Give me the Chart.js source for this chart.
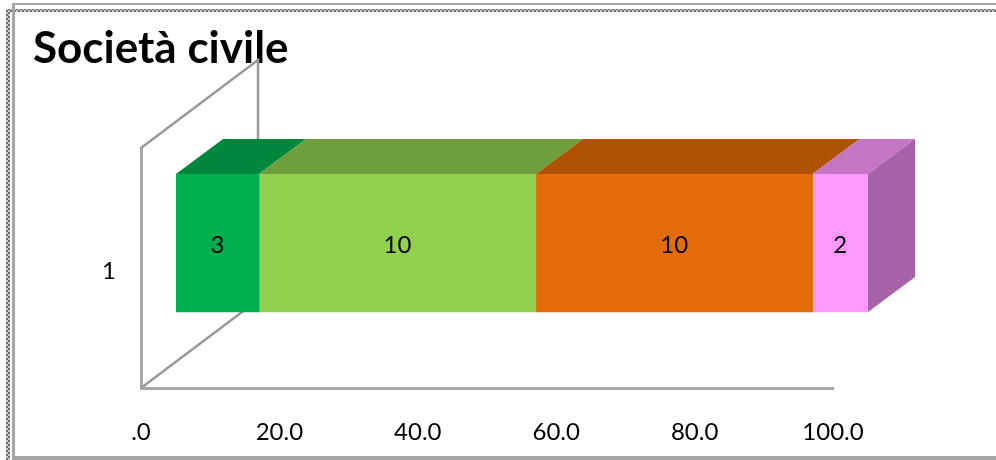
<!DOCTYPE html>
<html>
<head>
<meta charset="utf-8">
<script src="https://cdn.jsdelivr.net/npm/chart.js@4.4.1/dist/chart.umd.min.js"></script>
<style>
  html, body { margin: 0; padding: 0; background: #fff; }
  canvas { display: block; }
</style>
</head>
<body>
<canvas id="grafico" width="996" height="460"></canvas>
<script>
// dati: una categoria, quattro serie (conteggi)
const categorie = ['1'];
const serie1 = [3];
const serie2 = [10];
const serie3 = [10];
const serie4 = [2];
const tickAsseX = ['.0', '20.0', '40.0', '60.0', '80.0', '100.0'];

const conteggi = [serie1, serie2, serie3, serie4];
// barre in pila al 100%: quota di ogni serie sul totale della categoria
const totali = categorie.map((c, i) => conteggi.reduce((s, a) => s + a[i], 0));
const quote = conteggi.map(a => a.map((v, i) => v / totali[i] * 100));

const coloriFronte = ['#00b050', '#92d050', '#e36c0a', '#ff99ff'];
const coloriSopra = ['#00873e', '#6f9e3e', '#b05206', '#c476c4'];
const coloreLato = '#a562a6';
const grigio = '#a6a6a6';

// cornice esterna (linea piena + linea tratteggiata)
const cornice = {
    id: 'cornice',
    beforeDraw(chart) {
        const ctx = chart.ctx;
        const W = chart.width, H = chart.height;
        const p = document.createElement('canvas');
        p.width = 4; p.height = 4;
        const pc = p.getContext('2d');
        pc.fillStyle = '#c8c8c8'; pc.fillRect(0, 0, 4, 4);
        pc.fillStyle = '#6e6e6e';
        pc.fillRect(0, 0, 2, 2); pc.fillRect(2, 2, 2, 2);
        const trama = ctx.createPattern(p, 'repeat');
        ctx.save();
        ctx.fillStyle = trama;
        ctx.fillRect(6, 9, W - 6, 3);
        ctx.fillRect(6, 9, 4, H - 9);
        ctx.fillStyle = grigio;
        ctx.fillRect(12, 3, W - 12, 2);
        ctx.fillRect(12, 3, 3, H - 3);
        ctx.fillRect(12, H - 4, W - 12, 4);
        ctx.restore();
    }
};

// effetto 3D: pareti, facce superiori/laterali ed etichette
const rilievo = {
    id: 'rilievo',
    beforeDatasetsDraw(chart, args, o) {
        const {ctx, chartArea: a} = chart;
        ctx.save();
        ctx.strokeStyle = '#9a9a9a';
        ctx.lineWidth = 2.5;
        ctx.beginPath();
        ctx.moveTo(a.left, a.top);
        ctx.lineTo(a.left + o.wallDx, a.top + o.wallDy);
        ctx.lineTo(a.left + o.wallDx, a.bottom + o.wallDy);
        ctx.moveTo(a.left, a.bottom);
        ctx.lineTo(a.left + o.wallDx, a.bottom + o.wallDy);
        ctx.stroke();
        ctx.restore();
        ctx.save();
        ctx.translate(o.shiftX, o.shiftY);
    },
    afterDatasetsDraw(chart, args, o) {
        const ctx = chart.ctx;
        const metas = chart.getSortedVisibleDatasetMetas();
        metas.forEach((meta, di) => {
            const ds = chart.data.datasets[meta.index];
            meta.data.forEach(el => {
                const {x, y, base, height} = el.getProps(['x', 'y', 'base', 'height'], true);
                const top = y - height / 2, bottom = y + height / 2;
                ctx.fillStyle = ds.topColor;
                ctx.beginPath();
                ctx.moveTo(base, top);
                ctx.lineTo(x, top);
                ctx.lineTo(x + o.dx, top + o.dy);
                ctx.lineTo(base + o.dx, top + o.dy);
                ctx.closePath();
                ctx.fill();
                if (di === metas.length - 1) {
                    ctx.fillStyle = coloreLato;
                    ctx.beginPath();
                    ctx.moveTo(x, top);
                    ctx.lineTo(x + o.dx, top + o.dy);
                    ctx.lineTo(x + o.dx, bottom + o.dy);
                    ctx.lineTo(x, bottom);
                    ctx.closePath();
                    ctx.fill();
                }
            });
        });
        ctx.fillStyle = '#000';
        ctx.font = '24px Lato';
        ctx.textAlign = 'center';
        ctx.textBaseline = 'middle';
        metas.forEach(meta => {
            const ds = chart.data.datasets[meta.index];
            meta.data.forEach((el, i) => {
                const {x, y, base} = el.getProps(['x', 'y', 'base'], true);
                ctx.fillText(String(ds.conteggi[i]), (x + base) / 2, y + 2);
            });
        });
        ctx.restore();
    }
};

new Chart(document.getElementById('grafico'), {
    type: 'bar',
    data: {
        labels: categorie,
        datasets: conteggi.map((s, i) => ({
            label: 'Serie ' + (i + 1),
            data: quote[i],
            conteggi: s,
            backgroundColor: coloriFronte[i],
            topColor: coloriSopra[i],
            borderWidth: 0,
            barThickness: 138
        }))
    },
    options: {
        responsive: false,
        animation: false,
        devicePixelRatio: 1,
        indexAxis: 'y',
        layout: { padding: { left: 33, right: 163, top: 0, bottom: 0 } },
        plugins: {
            legend: { display: false },
            tooltip: { enabled: false },
            title: {
                display: true,
                text: 'Società civile',
                align: 'start',
                color: '#000',
                font: { family: 'Lato', size: 44, weight: 'bold' },
                padding: { top: 22, bottom: 73.2 }
            },
            rilievo: { dx: 47, dy: -35, shiftX: 35, shiftY: -25, wallDx: 117, wallDy: -88 }
        },
        scales: {
            x: {
                stacked: true,
                min: 0,
                max: 100,
                grid: { display: false, drawTicks: false },
                border: { display: true, color: grigio, width: 3 },
                ticks: {
                    stepSize: 20,
                    padding: 30,
                    color: '#000',
                    font: { family: 'Lato', size: 24 },
                    callback: (v, i) => tickAsseX[i]
                },
                afterFit: s => { s.height = 72; }
            },
            y: {
                stacked: true,
                grid: { display: false, drawTicks: false },
                border: { display: true, color: grigio, width: 3 },
                ticks: {
                    padding: 25,
                    labelOffset: 3,
                    color: '#000',
                    font: { family: 'Lato', size: 24 }
                },
                afterFit: s => { s.width = 108; }
            }
        }
    },
    plugins: [cornice, rilievo]
});
</script>
</body>
</html>
